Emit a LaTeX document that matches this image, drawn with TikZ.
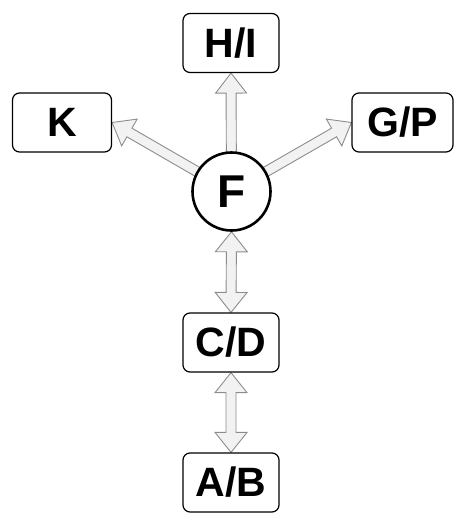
\documentclass[tikz,border=0pt]{standalone}
\usepackage{fontspec}
\setmainfont{Liberation Sans}
\usetikzlibrary{calc,backgrounds}
\tikzset{
  box/.style={draw=black, line width=1.2pt, rounded corners=7pt, fill=white,
    minimum height=59pt, inner sep=0pt, font=\fontsize{41}{41}\bfseries\selectfont},
  circ/.style={draw=black, line width=2.6pt, circle, fill=white, minimum size=78pt,
    inner sep=0pt, font=\fontsize{46}{46}\bfseries\selectfont},
  blockarrow/.style={draw=black!45, fill=black!5, line width=0.9pt, line join=miter}
}
\newcommand{\singlearrow}[2]{%
  \coordinate (hA) at ($(#2)!20pt!(#1)$);
  \path[blockarrow] ($(#1)!5pt!90:(#2)$) -- ($(hA)!5pt!90:(#2)$) -- ($(hA)!15.5pt!90:(#2)$) -- (#2)
    -- ($(hA)!15.5pt!-90:(#2)$) -- ($(hA)!5pt!-90:(#2)$) -- ($(#1)!5pt!-90:(#2)$) -- cycle;}
\newcommand{\doublearrow}[2]{%
  \coordinate (hA) at ($(#1)!20pt!(#2)$);
  \coordinate (hB) at ($(#2)!20pt!(#1)$);
  \path[blockarrow] (#1) -- ($(hA)!16pt!90:(#2)$) -- ($(hA)!5pt!90:(#2)$) -- ($(hB)!5pt!90:(#2)$)
    -- ($(hB)!16pt!90:(#2)$) -- (#2) -- ($(hB)!16pt!-90:(#2)$) -- ($(hB)!5pt!-90:(#2)$)
    -- ($(hA)!5pt!-90:(#2)$) -- ($(hA)!16pt!-90:(#2)$) -- cycle;}
\begin{document}
\begin{tikzpicture}[x=1pt,y=-1pt]
\useasboundingbox (0,0) rectangle (465,525);
\node[box, minimum width=96pt] (HI) at (231,43) {H/I};
\node[box, minimum width=99pt] (K) at (62,122.5) {K};
\node[box, minimum width=101pt] (GP) at (402.5,122.5) {G/P};
\node[circ] (F) at (231.5,191.5) {F};
\node[box, minimum width=96pt] (CD) at (231,342.5) {C/D};
\node[box, minimum width=96pt] (AB) at (231,482.5) {A/B};
\begin{pgfonlayer}{background}
\singlearrow{F.center}{HI.south}
\singlearrow{F.center}{K.east}
\singlearrow{F.center}{GP.west}
\doublearrow{F.south}{CD.north}
\doublearrow{CD.south}{AB.north}
\end{pgfonlayer}
\end{tikzpicture}
\end{document}
